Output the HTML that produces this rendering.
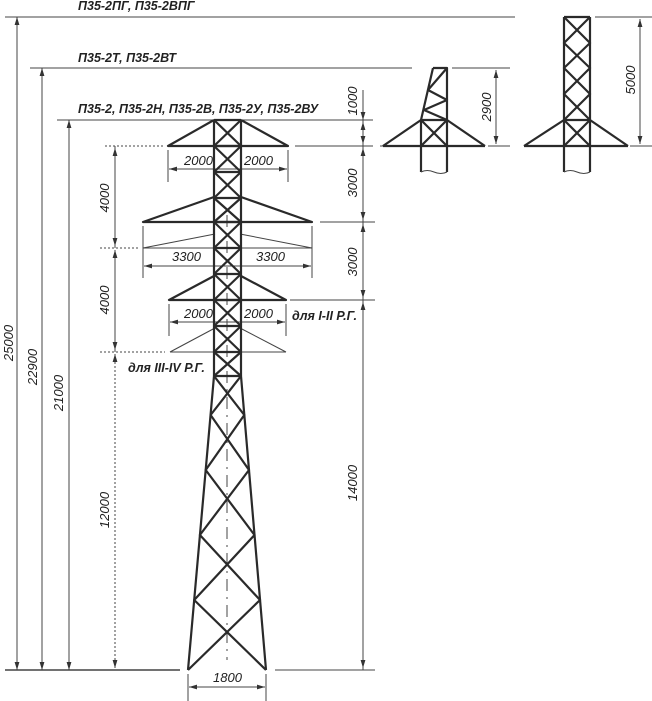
<!DOCTYPE html>
<html><head><meta charset="utf-8"><style>
html,body{margin:0;padding:0;background:#fff;}
svg{display:block}
text{font-family:"Liberation Sans",sans-serif;font-style:italic;fill:#222;}
.b{font-weight:bold;font-size:12.5px}
.n{font-size:13px}
</style></head><body>
<svg width="652" height="701" viewBox="0 0 652 701" xmlns="http://www.w3.org/2000/svg">
<defs>
<marker id="a" viewBox="0 0 10 10" refX="10" refY="5" markerWidth="8" markerHeight="8" orient="auto-start-reverse" markerUnits="userSpaceOnUse"><path d="M0,2L10,5L0,8z" fill="#333"/></marker>
</defs>
<g stroke="#444" stroke-width="1" fill="none">
<line x1="5" y1="17" x2="515" y2="17"/>
<line x1="30" y1="68" x2="412" y2="68"/>
<line x1="57" y1="120" x2="373" y2="120"/>
<line x1="5" y1="670" x2="180" y2="670" stroke-width="1.5"/>
<line x1="275" y1="670" x2="375" y2="670"/>
<line x1="295" y1="146" x2="373" y2="146"/>
<line x1="320" y1="222" x2="375" y2="222"/>
<line x1="290" y1="300" x2="375" y2="300"/>
<line x1="17" y1="17" x2="17" y2="670" marker-start="url(#a)" marker-end="url(#a)"/>
<line x1="42" y1="68" x2="42" y2="670" marker-start="url(#a)" marker-end="url(#a)"/>
<line x1="69" y1="120" x2="69" y2="670" marker-start="url(#a)" marker-end="url(#a)"/>
<g stroke-dasharray="2,2">
<line x1="115" y1="146" x2="115" y2="670"/>
<line x1="105" y1="146" x2="165" y2="146"/>
<line x1="100" y1="248" x2="140" y2="248"/>
<line x1="100" y1="352" x2="165" y2="352"/>
</g>
<line x1="115" y1="148" x2="115" y2="246" marker-start="url(#a)" marker-end="url(#a)"/>
<line x1="115" y1="250" x2="115" y2="350" marker-start="url(#a)" marker-end="url(#a)"/>
<line x1="115" y1="354" x2="115" y2="668" stroke="none" marker-start="url(#a)" marker-end="url(#a)"/>
<line x1="363" y1="90" x2="363" y2="670"/>
<line x1="363" y1="100" x2="363" y2="120" marker-end="url(#a)"/>
<line x1="363" y1="122" x2="363" y2="144" marker-start="url(#a)" marker-end="url(#a)"/>
<line x1="363" y1="148" x2="363" y2="220" marker-start="url(#a)" marker-end="url(#a)"/>
<line x1="363" y1="224" x2="363" y2="298" marker-start="url(#a)" marker-end="url(#a)"/>
<line x1="363" y1="302" x2="363" y2="668" marker-start="url(#a)" marker-end="url(#a)"/>
<line x1="168" y1="150" x2="168" y2="182"/><line x1="288" y1="150" x2="288" y2="182"/>
<line x1="169" y1="169" x2="287" y2="169" marker-start="url(#a)" marker-end="url(#a)"/>
<line x1="143" y1="226" x2="143" y2="278"/><line x1="312" y1="226" x2="312" y2="278"/>
<line x1="143" y1="248" x2="312" y2="248"/>
<line x1="144" y1="266" x2="311" y2="266" marker-start="url(#a)" marker-end="url(#a)"/>
<line x1="169" y1="304" x2="169" y2="336"/><line x1="286" y1="304" x2="286" y2="336"/>
<line x1="170" y1="322" x2="285" y2="322" marker-start="url(#a)" marker-end="url(#a)"/>
<line x1="215" y1="234" x2="143" y2="248"/><line x1="240" y1="234" x2="312" y2="248"/>
<line x1="215" y1="328" x2="170" y2="352"/><line x1="240" y1="328" x2="286" y2="352"/>
<line x1="170" y1="352" x2="286" y2="352"/>
<line x1="188" y1="674" x2="188" y2="701"/><line x1="266" y1="674" x2="266" y2="701"/>
<line x1="189" y1="687" x2="265" y2="687" marker-start="url(#a)" marker-end="url(#a)"/>
<line x1="227" y1="215" x2="227" y2="660" stroke-dasharray="12,6,2,6"/>
<line x1="452" y1="68" x2="510" y2="68"/><line x1="488" y1="146" x2="510" y2="146"/>
<line x1="496" y1="70" x2="496" y2="144" marker-start="url(#a)" marker-end="url(#a)"/>
<line x1="595" y1="17" x2="652" y2="17"/><line x1="630" y1="146" x2="652" y2="146"/>
<line x1="640" y1="19" x2="640" y2="144" marker-start="url(#a)" marker-end="url(#a)"/>
<line x1="380" y1="146" x2="383" y2="146"/>
</g>
<g stroke="#2a2a2a" stroke-width="2.2" fill="none" stroke-linejoin="round">
<line x1="214" y1="120" x2="214" y2="376"/><line x1="241" y1="120" x2="241" y2="376"/>
<path d="M214,120H241M214,146H241M214,172H241M214,198H241M214,222H241M214,248H241M214,274H241M214,300H241M214,326H241M214,352H241M214,376H241"/>
<path d="M214,120L241,146M241,120L214,146M214,146L241,172M241,146L214,172M214,172L241,198M241,172L214,198M214,198L241,222M241,198L214,222M214,222L241,248M241,222L214,248M214,248L241,274M241,248L214,274M214,274L241,300M241,274L214,300M214,300L241,326M241,300L214,326M214,326L241,352M241,326L214,352M214,352L241,376M241,352L214,376"/>
<path d="M214,120L168,146H288L241,120"/>
<path d="M214,197L143,222H312L241,197"/>
<path d="M214,276L169,300H286L241,276"/>
<path d="M214,376L188,670M241,376L266,670"/>
<path d="M214,376L244.3,415L205.7,470L254.5,535L194.2,600L266,670"/>
<path d="M241,376L210.6,415L249,470L199.9,535L260,600L188,670"/>
<path d="M433,68H447V172M433,68L421,120V172"/>
<path d="M421,120H447M383,146H485M421,120L383,146M447,120L485,146M421,120L447,146M447,120L421,146"/>
<path d="M447,68L428,90L447,100L424,110L447,120"/>
<path d="M564,17V172M590,17V172M564,17H590M564,120H590M524,146H628M564,120L524,146M590,120L628,146"/>
<path d="M564,17L590,43L564,68L590,94L564,120L590,146M590,17L564,43L590,68L564,94L590,120L564,146"/>
</g>
<g stroke="#444" stroke-width="1" fill="none">
<path d="M421,172q6,-3 13,0t13,0"/><path d="M564,172q6,-3 13,0t13,0"/>
</g>
<text class="b" x="78" y="10">П35-2ПГ, П35-2ВПГ</text>
<text class="b" x="78" y="62">П35-2Т, П35-2ВТ</text>
<text class="b" x="78" y="113">П35-2, П35-2Н, П35-2В, П35-2У, П35-2ВУ</text>
<text class="b" x="292" y="320">для I-II Р.Г.</text>
<text class="b" x="128" y="372">для III-IV Р.Г.</text>
<text class="n" x="184" y="165">2000</text><text class="n" x="244" y="165">2000</text>
<text class="n" x="172" y="261">3300</text><text class="n" x="256" y="261">3300</text>
<text class="n" x="184" y="318">2000</text><text class="n" x="244" y="318">2000</text>
<text class="n" x="213" y="682">1800</text>
<text transform="translate(13,343) rotate(-90)" text-anchor="middle" class="n">25000</text>
<text transform="translate(37,367) rotate(-90)" text-anchor="middle" class="n">22900</text>
<text transform="translate(63,393) rotate(-90)" text-anchor="middle" class="n">21000</text>
<text transform="translate(109,198) rotate(-90)" text-anchor="middle" class="n">4000</text>
<text transform="translate(109,300) rotate(-90)" text-anchor="middle" class="n">4000</text>
<text transform="translate(109,510) rotate(-90)" text-anchor="middle" class="n">12000</text>
<text transform="translate(357,483) rotate(-90)" text-anchor="middle" class="n">14000</text>
<text transform="translate(357,101) rotate(-90)" text-anchor="middle" class="n">1000</text>
<text transform="translate(357,183) rotate(-90)" text-anchor="middle" class="n">3000</text>
<text transform="translate(357,262) rotate(-90)" text-anchor="middle" class="n">3000</text>
<text transform="translate(491,107) rotate(-90)" text-anchor="middle" class="n">2900</text>
<text transform="translate(635,80) rotate(-90)" text-anchor="middle" class="n">5000</text>
</svg>
</body></html>
